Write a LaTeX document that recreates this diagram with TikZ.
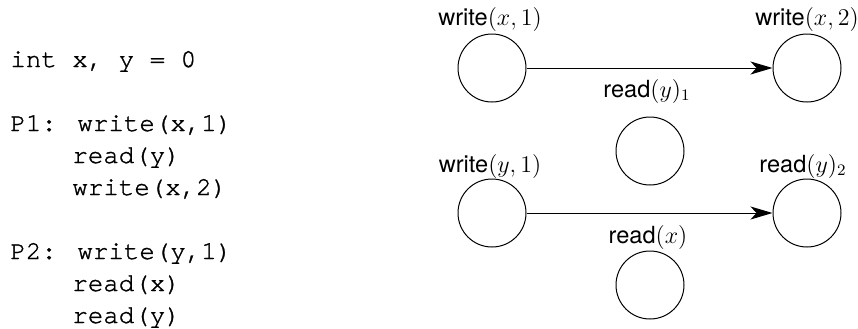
\documentclass[tikz,border=0pt]{standalone}
\usepackage{fontspec}
\setmainfont{TeX Gyre Heros}
\newfontfamily\codefont[FakeBold=1.3]{TeX Gyre Cursor}
\usetikzlibrary{arrows.meta}
\begin{document}
\begin{tikzpicture}[x=0.5pt,y=-0.5pt,
  codeline/.style={anchor=base west,inner sep=0pt,font=\codefont\fontsize{12.9pt}{14pt}\selectfont},
  evt/.style={circle,draw,line width=0.5pt,minimum size=34pt,inner sep=0pt},
  lbl/.style={inner sep=0pt,anchor=base,font=\fontsize{11.8pt}{13pt}\selectfont},
  order/.style={line width=0.5pt,-{Stealth[length=11pt,width=6.5pt,inset=3pt]}}]
\useasboundingbox (0,0) rectangle (858,328);
% code
\node[codeline] (c0) at (10,67) {int x, y = 0};
\node[codeline] (c1) at (10,131) {P1: write(x,1)};
\node[codeline] (c2) at (72,163) {read(y)};
\node[codeline] (c3) at (72,195) {write(x,2)};
\node[codeline] (c4) at (10,259) {P2: write(y,1)};
\node[codeline] (c5) at (72,291) {read(x)};
\node[codeline] (c6) at (72,323) {read(y)};
% events
\node[evt] (wx1) at (492,68) {};
\node[evt] (wx2) at (807,68) {};
\node[evt] (ry1) at (650,151) {};
\node[evt] (wy1) at (492,213) {};
\node[evt] (ry2) at (807,213) {};
\node[evt] (rx) at (650,285) {};
% labels
\node[lbl] (lwx1) at (490,25) {write$(x,1)$};
\node[lbl] (lwx2) at (807,25) {write$(x,2)$};
\node[lbl] (lry1) at (647,97) {read$(y)_1$};
\node[lbl] (lwy1) at (490,172) {write$(y,1)$};
\node[lbl] (lry2) at (803,172) {read$(y)_2$};
\node[lbl] (lrx) at (648,243) {read$(x)$};
% arrows
\draw[order] (wx1) -- (wx2);
\draw[order] (wy1) -- (ry2);
\end{tikzpicture}
\end{document}
